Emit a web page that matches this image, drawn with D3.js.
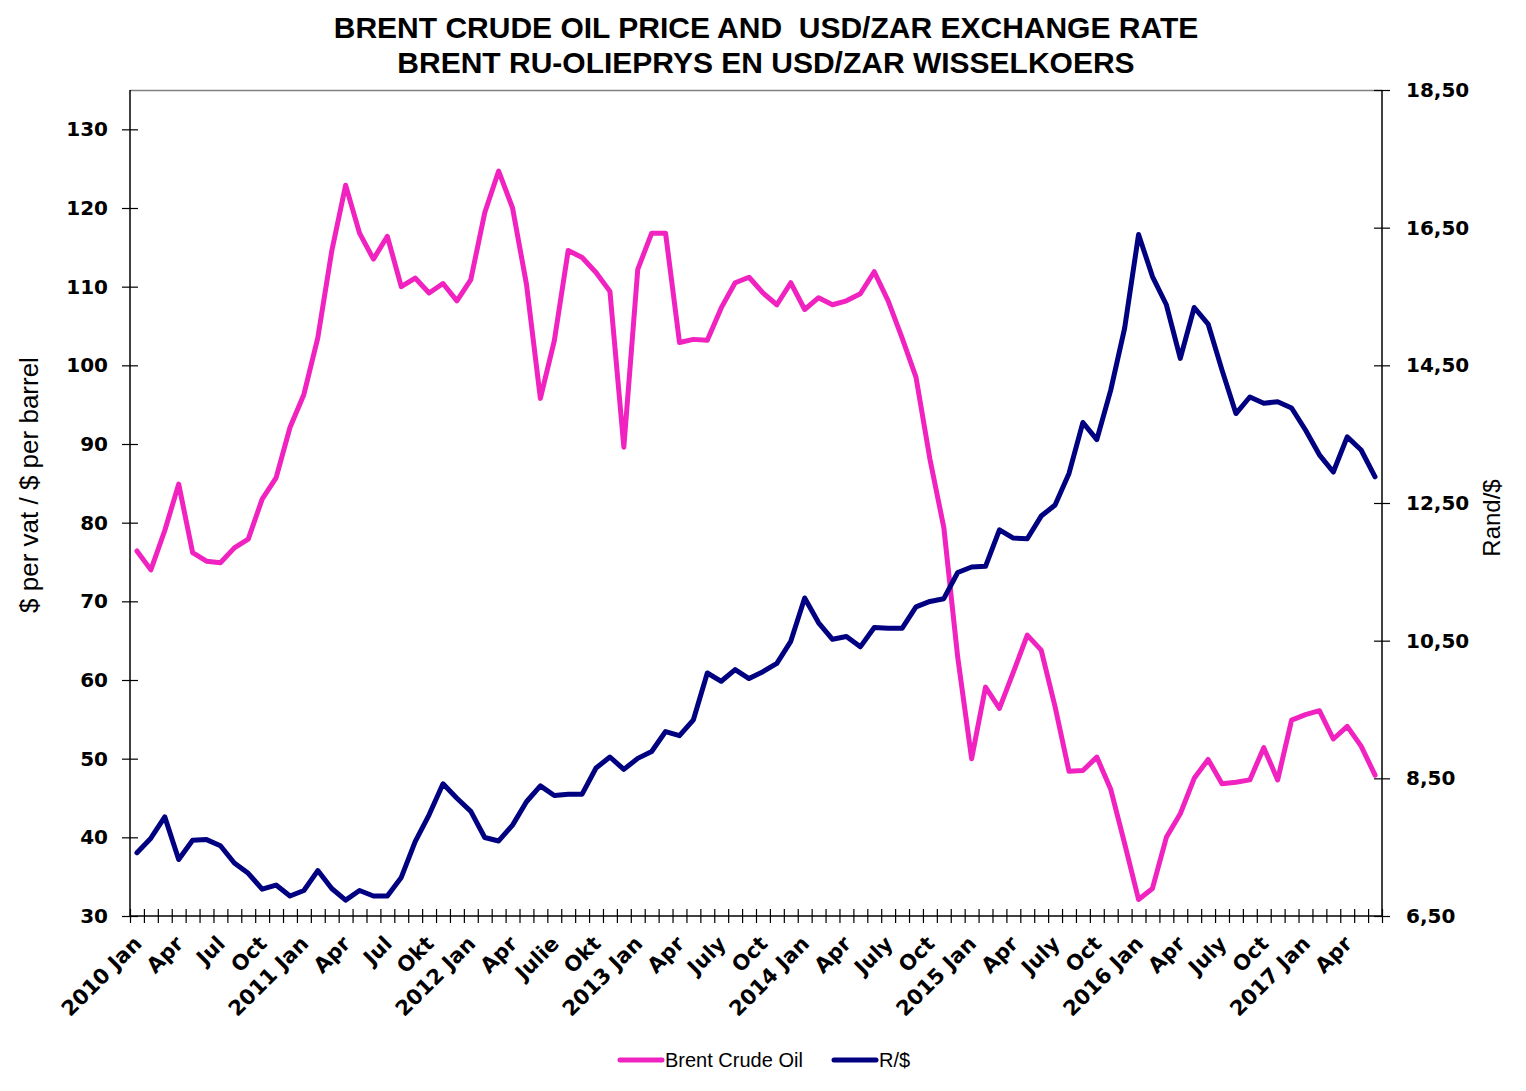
<!DOCTYPE html>
<html>
<head>
<meta charset="utf-8">
<script src="https://cdn.jsdelivr.net/npm/d3@7"></script>
<style>
  html, body { margin: 0; padding: 0; background: #fff; }
  svg { display: block; }
</style>
</head>
<body>
<svg id="chart" width="1526" height="1091"></svg>
<script>
// ---------------- DATA ----------------
const titleLines = ["BRENT CRUDE OIL PRICE AND  USD/ZAR EXCHANGE RATE", "BRENT RU-OLIEPRYS EN USD/ZAR WISSELKOERS"];
const leftAxisTitle = "$ per vat / $ per barrel";
const rightAxisTitle = "Rand/$";
const seriesNames = ["Brent Crude Oil", "R/$"];

// 90 months: 2010 Jan .. 2017 Jun ; labels every third month
const categoryLabels = [
  "2010 Jan","","","Apr","","","Jul","","","Oct","","",
  "2011 Jan","","","Apr","","","Jul","","","Okt","","",
  "2012 Jan","","","Apr","","","Julie","","","Okt","","",
  "2013 Jan","","","Apr","","","July","","","Oct","","",
  "2014 Jan","","","Apr","","","July","","","Oct","","",
  "2015 Jan","","","Apr","","","July","","","Oct","","",
  "2016 Jan","","","Apr","","","July","","","Oct","","",
  "2017 Jan","","","Apr","",""
];

const brent = [
  76.4, 74.0, 79.0, 84.9, 76.2, 75.1, 74.9, 76.8, 77.9, 83.0, 85.7, 92.1,
  96.3, 103.5, 114.5, 122.9, 116.8, 113.5, 116.4, 110.0, 111.1, 109.2, 110.4, 108.2,
  110.9, 119.4, 124.7, 120.0, 110.3, 95.8, 103.1, 114.6, 113.7, 111.8, 109.4, 89.6,
  112.2, 116.8, 116.8, 102.9, 103.3, 103.2, 107.3, 110.5, 111.2, 109.2, 107.7, 110.5,
  107.1, 108.6, 107.7, 108.2, 109.1, 111.9, 108.2, 103.5, 98.5, 88.1, 79.4, 62.9,
  50.0, 59.1, 56.4, 61.0, 65.7, 63.8, 56.6, 48.4, 48.5, 50.2, 46.1, 39.2,
  32.1, 33.5, 40.0, 43.0, 47.5, 49.9, 46.8, 47.0, 47.3, 51.4, 47.3, 54.9,
  55.6, 56.1, 52.5, 54.1, 51.6, 47.9
];

const randDollar = [
  7.42, 7.63, 7.94, 7.32, 7.60, 7.61, 7.52, 7.27, 7.12, 6.89, 6.95, 6.79,
  6.87, 7.16, 6.90, 6.73, 6.87, 6.79, 6.79, 7.06, 7.58, 7.97, 8.42, 8.21,
  8.02, 7.64, 7.59, 7.82, 8.16, 8.39, 8.25, 8.27, 8.27, 8.65, 8.81, 8.63,
  8.79, 8.89, 9.18, 9.12, 9.35, 10.03, 9.91, 10.08, 9.95, 10.05, 10.17, 10.49,
  11.12, 10.76, 10.52, 10.56, 10.41, 10.69, 10.68, 10.68, 10.99, 11.07, 11.11, 11.49,
  11.57, 11.58, 12.11, 11.99, 11.98, 12.31, 12.47, 12.93, 13.67, 13.42, 14.14, 15.04,
  16.40, 15.79, 15.38, 14.60, 15.34, 15.10, 14.43, 13.80, 14.04, 13.95, 13.97, 13.88,
  13.56, 13.20, 12.95, 13.46, 13.27, 12.88
];

const leftTicks = [30, 40, 50, 60, 70, 80, 90, 100, 110, 120, 130];
const rightTicks = [6.5, 8.5, 10.5, 12.5, 14.5, 16.5, 18.5];

// ---------------- LAYOUT ----------------
const plot = { left: 130, right: 1382, top: 90, bottom: 916 };
const colors = { brent: "#F022C0", rand: "#000080" };

const svg = d3.select("#chart");

const x = d3.scaleLinear().domain([0, categoryLabels.length]).range([plot.left, plot.right]);
const yL = d3.scaleLinear().domain([30, 135]).range([plot.bottom, plot.top]);
const yR = d3.scaleLinear().domain([6.5, 18.5]).range([plot.bottom, plot.top]);

// Title
svg.append("g").selectAll("text").data(titleLines).join("text")
  .attr("x", 766).attr("y", (d, i) => 38 + i * 35)
  .attr("text-anchor", "middle")
  .style("white-space", "pre")
  .style("font-family", "'Liberation Sans', Arial, sans-serif")
  .style("font-weight", "bold").style("font-size", "30px")
  .text(d => d);

// top border (gray)
svg.append("line").attr("x1", plot.left).attr("x2", plot.right)
  .attr("y1", plot.top + 0.5).attr("y2", plot.top + 0.5)
  .attr("stroke", "#808080").attr("stroke-width", 1.5);

// Left axis
const gL = svg.append("g").attr("transform", `translate(${plot.left},0)`)
  .call(d3.axisLeft(yL).tickValues(leftTicks).tickSize(8).tickPadding(14).tickFormat(d3.format("d")));
gL.select(".domain").attr("stroke", "#000").attr("stroke-width", 1.5).attr("d", `M0,${plot.top}V${plot.bottom}`);
gL.selectAll(".tick line").attr("x1", -8).attr("x2", 8).attr("stroke", "#000").attr("stroke-width", 1.2);
gL.selectAll(".tick text")
  .style("font-family", "'DejaVu Sans', Verdana, sans-serif").style("font-weight", "bold")
  .style("font-size", "20px").attr("fill", "#000").attr("x", -22);

// Right axis
const gR = svg.append("g").attr("transform", `translate(${plot.right},0)`)
  .call(d3.axisRight(yR).tickValues(rightTicks).tickSize(8).tickFormat(d => d3.format(".2f")(d).replace(".", ",")));
gR.select(".domain").attr("stroke", "#000").attr("stroke-width", 1.5).attr("d", `M0,${plot.top}V${plot.bottom}`);
gR.selectAll(".tick line").attr("x1", -8).attr("x2", 8).attr("stroke", "#000").attr("stroke-width", 1.2);
gR.selectAll(".tick text")
  .style("font-family", "'DejaVu Sans', Verdana, sans-serif").style("font-weight", "bold")
  .style("font-size", "20px").attr("fill", "#000").attr("x", 24);

// Bottom axis (month boundaries)
const gB = svg.append("g").attr("transform", `translate(0,${plot.bottom})`)
  .call(d3.axisBottom(x).tickValues(d3.range(0, categoryLabels.length + 1)).tickSize(7).tickFormat(""));
gB.select(".domain").attr("stroke", "#000").attr("stroke-width", 1.5).attr("d", `M${plot.left},0H${plot.right}`);
gB.selectAll(".tick line").attr("y1", -7).attr("y2", 7).attr("stroke", "#000").attr("stroke-width", 1.2);

// Category labels (rotated)
const labelIdx = categoryLabels.map((d, i) => i).filter(i => categoryLabels[i] !== "");
svg.append("g").selectAll("text").data(labelIdx).join("text")
  .attr("transform", i => `translate(${x(i + 0.5) + 6},${plot.bottom + 29}) rotate(-45)`)
  .attr("text-anchor", "end")
  .style("font-family", "'DejaVu Sans', Verdana, sans-serif").style("font-weight", "bold")
  .style("font-size", "21px")
  .text(i => categoryLabels[i]);

// Axis titles
svg.append("text")
  .attr("transform", `translate(38,485) rotate(-90)`)
  .attr("text-anchor", "middle")
  .style("font-family", "'Liberation Sans', Arial, sans-serif").style("font-size", "26px")
  .text(leftAxisTitle);
svg.append("text")
  .attr("transform", `translate(1500,518) rotate(-90)`)
  .attr("text-anchor", "middle")
  .style("font-family", "'Liberation Sans', Arial, sans-serif").style("font-size", "24px")
  .text(rightAxisTitle);

// Lines
const lineL = d3.line().x((d, i) => x(i + 0.5)).y(d => yL(d));
const lineR = d3.line().x((d, i) => x(i + 0.5)).y(d => yR(d));

svg.append("path").datum(brent).attr("d", lineL)
  .attr("fill", "none").attr("stroke", colors.brent).attr("stroke-width", 5)
  .attr("stroke-linejoin", "round").attr("stroke-linecap", "round");
svg.append("path").datum(randDollar).attr("d", lineR)
  .attr("fill", "none").attr("stroke", colors.rand).attr("stroke-width", 5)
  .attr("stroke-linejoin", "round").attr("stroke-linecap", "round");

// Legend
const legendItems = [
  { name: seriesNames[0], color: colors.brent, x: 620 },
  { name: seriesNames[1], color: colors.rand, x: 834 }
];
const lg = svg.append("g");
legendItems.forEach(it => {
  lg.append("line").attr("x1", it.x).attr("x2", it.x + 42).attr("y1", 1060).attr("y2", 1060)
    .attr("stroke", it.color).attr("stroke-width", 5).attr("stroke-linecap", "round");
  lg.append("text").attr("x", it.x + 45).attr("y", 1067)
    .style("font-family", "'Liberation Sans', Arial, sans-serif").style("font-size", "20px")
    .text(it.name);
});
</script>
</body>
</html>
